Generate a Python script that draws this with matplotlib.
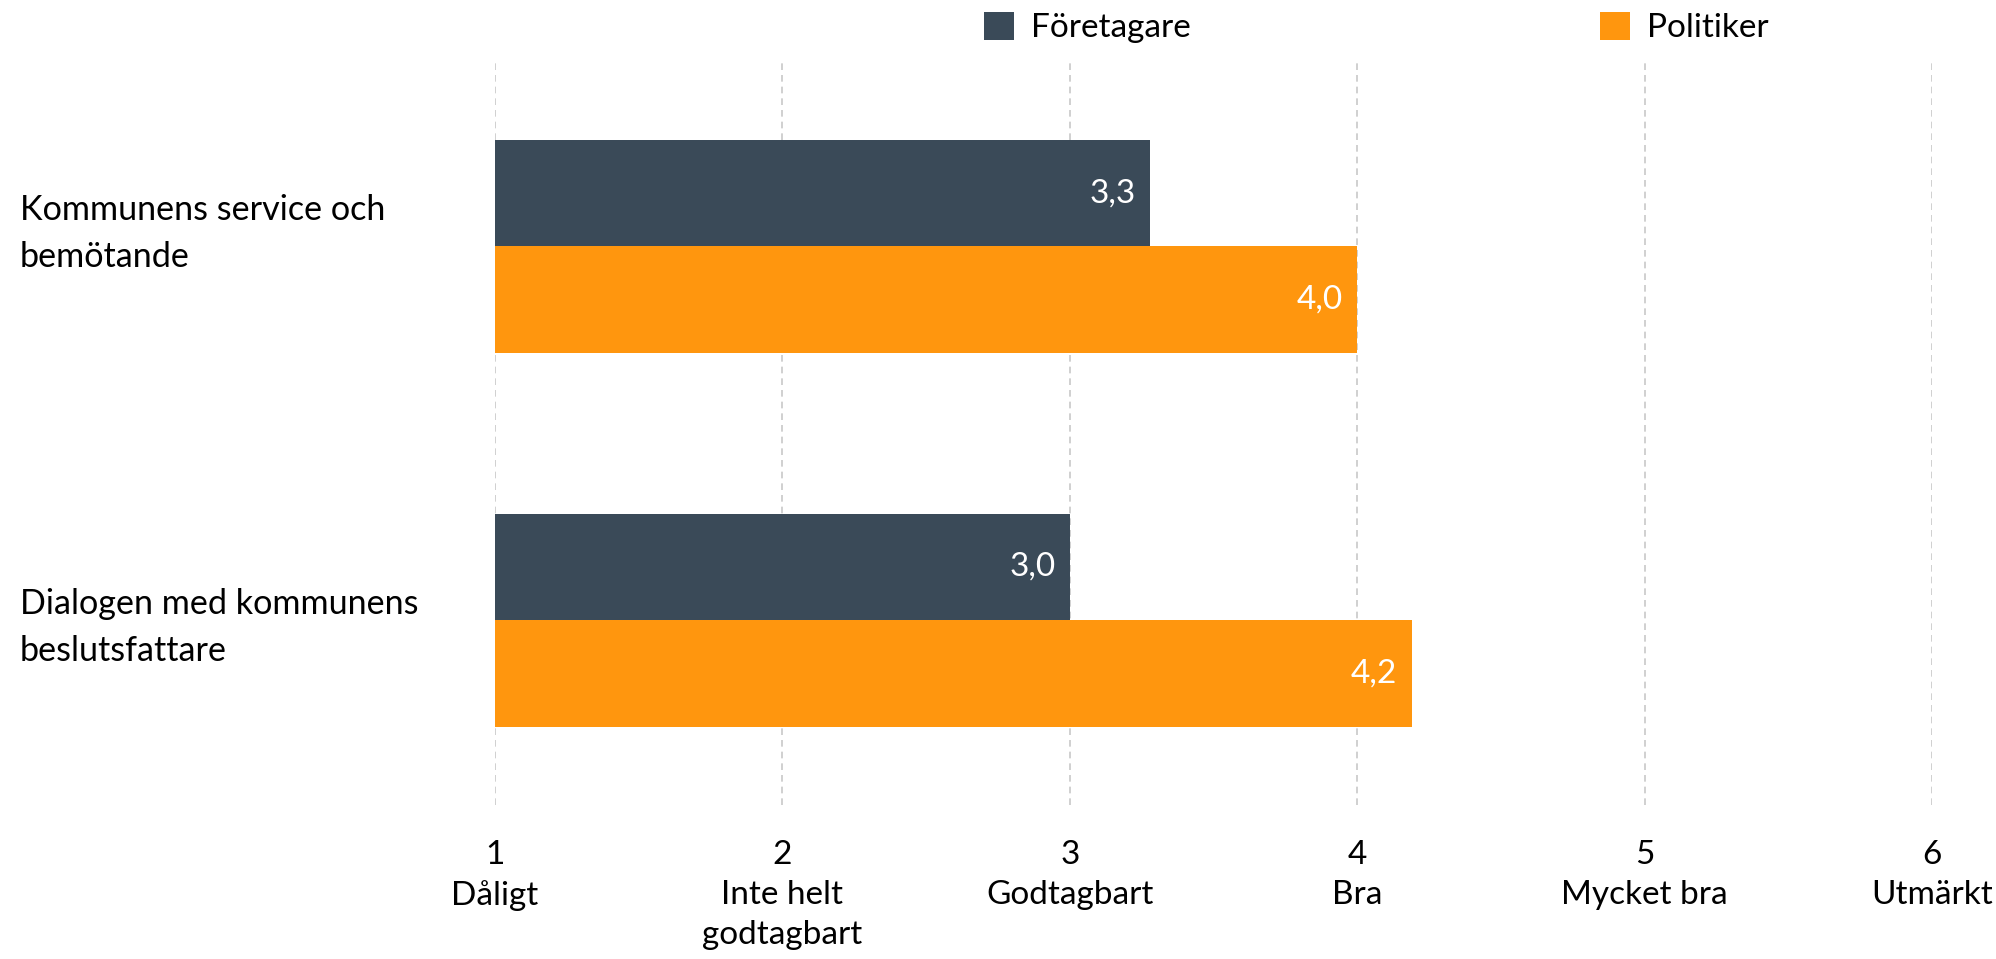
import matplotlib
matplotlib.use("Agg")
import matplotlib.pyplot as plt
import matplotlib.transforms as mtransforms
from matplotlib import font_manager
import numpy as np

categories = ["Kommunens service och\nbemötande", "Dialogen med kommunens\nbeslutsfattare"]
series_names = ["Företagare", "Politiker"]
foretagare = [3.28, 3.0]
politiker = [4.0, 4.19]
value_labels_f = ["3,3", "3,0"]
value_labels_p = ["4,0", "4,2"]
tick_values = [1, 2, 3, 4, 5, 6]
tick_texts = ["1\nDåligt", "2\nInte helt\ngodtagbart", "3\nGodtagbart", "4\nBra", "5\nMycket bra", "6\nUtmärkt"]

dark = "#3A4A58"
orange = "#FF960E"

names = {f.name for f in font_manager.fontManager.ttflist}
narrow = "Liberation Sans Narrow" if "Liberation Sans Narrow" in names else "Lato"
plt.rcParams['font.family'] = ['Lato', 'DejaVu Sans']

fig = plt.figure(figsize=(19.96, 9.59), dpi=100)
ax = fig.add_axes([0.248, 0.1606, 0.968 - 0.248, 0.936 - 0.1606])

y = np.arange(len(categories))
h = 0.285
b1 = ax.barh(y - h / 2, foretagare, height=h, color=dark, label=series_names[0])
b2 = ax.barh(y + h / 2, politiker, height=h, color=orange, label=series_names[1])

for bars, labs in ((b1, value_labels_f), (b2, value_labels_p)):
    for rect, lab in zip(bars, labs):
        ax.text(rect.get_width() - 0.05, rect.get_y() + rect.get_height() / 2, lab,
                ha="right", va="center", color="white", fontsize=24)

ax.set_xlim(1, 6)
ax.set_ylim(1.495, -0.495)
ax.set_xticks(tick_values)
ax.set_xticklabels(tick_texts, fontsize=24, family=[narrow, 'DejaVu Sans'], va="top", linespacing=1.42)
ax.tick_params(axis="x", length=0, pad=25)
ax.set_yticks(y)
ax.set_yticklabels(categories, fontsize=24.6, ha="left", linespacing=1.6)
ax.tick_params(axis="y", length=0, pad=342)
# nudge the category labels a little, as in the reference
first = ax.get_yticklabels()[0]
first.set_transform(first.get_transform() + mtransforms.ScaledTranslation(0, 17 / 72, fig.dpi_scale_trans))
second = ax.get_yticklabels()[1]
second.set_transform(second.get_transform() + mtransforms.ScaledTranslation(0, 2.5 / 72, fig.dpi_scale_trans))
ax.grid(axis="x", color="#C8C8C8", linestyle=(0, (4, 3)), linewidth=1.2)
ax.set_axisbelow(True)
for s in ax.spines.values():
    s.set_visible(False)

fig.legend(handles=[b1, b2], labels=series_names, loc="center", bbox_to_anchor=(0.6895, 0.971),
           ncol=2, frameon=False, fontsize=24, handlelength=0.9, handleheight=0.9,
           handletextpad=0.5, columnspacing=12.3)

fig.savefig("out.png", dpi=100)
